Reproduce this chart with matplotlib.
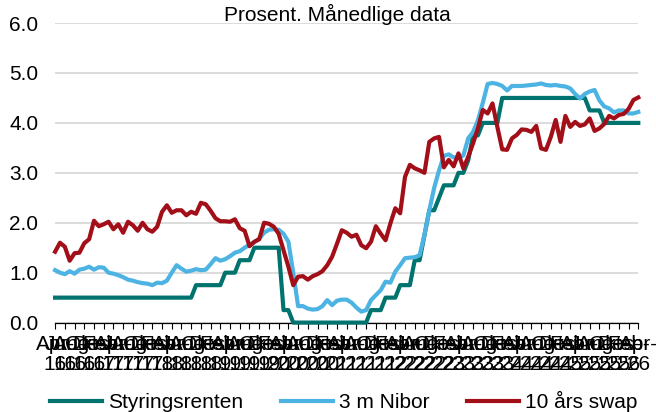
import matplotlib.pyplot as plt
import numpy as np

plt.rcParams['font.family'] = ['Liberation Sans', 'DejaVu Sans']

# Månedlige data, april 2016 - april 2026 (prosent)
styringsrenten = [
    0.5, 0.5, 0.5, 0.5, 0.5, 0.5, 0.5, 0.5, 0.5,                        # 2016
    0.5, 0.5, 0.5, 0.5, 0.5, 0.5, 0.5, 0.5, 0.5, 0.5, 0.5, 0.5,         # 2017
    0.5, 0.5, 0.5, 0.5, 0.5, 0.5, 0.5, 0.5, 0.75, 0.75, 0.75, 0.75,     # 2018
    0.75, 0.75, 1.0, 1.0, 1.0, 1.25, 1.25, 1.25, 1.5, 1.5, 1.5, 1.5,    # 2019
    1.5, 1.5, 0.25, 0.25, 0.0, 0.0, 0.0, 0.0, 0.0, 0.0, 0.0, 0.0,       # 2020
    0.0, 0.0, 0.0, 0.0, 0.0, 0.0, 0.0, 0.0, 0.25, 0.25, 0.25, 0.5,      # 2021
    0.5, 0.5, 0.75, 0.75, 0.75, 1.25, 1.25, 1.75, 2.25, 2.25, 2.5, 2.75,  # 2022
    2.75, 2.75, 3.0, 3.0, 3.25, 3.75, 3.75, 4.0, 4.0, 4.0, 4.0, 4.5,    # 2023
    4.5, 4.5, 4.5, 4.5, 4.5, 4.5, 4.5, 4.5, 4.5, 4.5, 4.5, 4.5,         # 2024
    4.5, 4.5, 4.5, 4.5, 4.5, 4.25, 4.25, 4.25, 4.0, 4.0, 4.0, 4.0,      # 2025
    4.0, 4.0, 4.0, 4.0,                                                 # 2026
]
nibor_3m = [
    1.05, 1.00, 0.97, 1.03, 0.98, 1.06, 1.08, 1.12, 1.06,
    1.11, 1.10, 1.00, 0.98, 0.95, 0.91, 0.86, 0.84, 0.81, 0.79, 0.78, 0.75,
    0.80, 0.79, 0.84, 1.00, 1.15, 1.08, 1.02, 1.04, 1.07, 1.05, 1.06, 1.17,
    1.29, 1.24, 1.27, 1.33, 1.40, 1.43, 1.50, 1.56, 1.61, 1.68, 1.80, 1.86,
    1.87, 1.86, 1.78, 1.62, 1.00, 0.33, 0.33, 0.28, 0.26, 0.27, 0.33, 0.45,
    0.35, 0.44, 0.46, 0.46, 0.40, 0.30, 0.22, 0.25, 0.45, 0.55, 0.65, 0.82,
    0.80, 1.02, 1.15, 1.29, 1.30, 1.31, 1.35, 1.76, 2.25, 2.70, 3.05, 3.34,
    3.37, 3.31, 3.30, 3.35, 3.69, 3.82, 4.05, 4.40, 4.78, 4.80, 4.78, 4.74,
    4.65, 4.74, 4.74, 4.74, 4.75, 4.76, 4.77, 4.79, 4.76, 4.75, 4.76, 4.74,
    4.73, 4.69, 4.58, 4.49, 4.58, 4.63, 4.66, 4.45, 4.33, 4.29, 4.21, 4.25,
    4.25, 4.19, 4.19, 4.22,
]
swap_10 = [
    1.42, 1.60, 1.52, 1.24, 1.39, 1.40, 1.59, 1.67, 2.04,
    1.93, 1.97, 2.02, 1.87, 1.97, 1.80, 2.02, 1.95, 1.84, 2.00, 1.87, 1.82,
    1.92, 2.22, 2.35, 2.20, 2.25, 2.25, 2.15, 2.22, 2.18, 2.40, 2.37, 2.24,
    2.09, 2.03, 2.03, 2.02, 2.07, 1.89, 1.84, 1.53, 1.62, 1.67, 2.00, 1.98,
    1.92, 1.78, 1.45, 1.12, 0.75, 0.92, 0.93, 0.86, 0.93, 0.97, 1.03, 1.15,
    1.32, 1.58, 1.85, 1.80, 1.72, 1.76, 1.55, 1.49, 1.62, 1.93, 1.78, 1.65,
    1.99, 2.29, 2.19, 2.92, 3.16, 3.09, 3.05, 3.00, 3.62, 3.69, 3.72, 3.11,
    3.26, 3.13, 3.39, 3.09, 3.32, 3.59, 3.89, 4.26, 4.19, 4.39, 3.92, 3.47,
    3.46, 3.69, 3.76, 3.87, 3.86, 3.82, 3.94, 3.49, 3.46, 3.72, 4.06, 3.62,
    4.14, 3.92, 4.02, 3.94, 3.97, 4.09, 3.84, 3.89, 3.98, 4.14, 4.09, 4.16,
    4.18, 4.28, 4.46, 4.51,
]

mnd = ['Jan', 'Feb', 'Mar', 'Apr', 'Mai', 'Jun', 'Jul', 'Aug', 'Sep', 'Okt', 'Nov', 'Des']
start_aar, start_mnd = 2016, 3  # april

n = len(styringsrenten)
x = np.arange(n)
tick_pos = list(range(0, n, 2))
etiketter = []
for i in tick_pos:
    k = start_mnd + i
    etiketter.append(f"{mnd[k % 12]}-\n{(start_aar + k // 12) % 100:02d}")

fig = plt.figure(figsize=(6.56, 4.12), dpi=100)
ax = fig.add_axes([0.084, 0.217, 0.889, 0.727])

ax.plot(x, styringsrenten, color='#00736E', lw=3, label='Styringsrenten', clip_on=False, zorder=3)
ax.plot(x, nibor_3m, color='#4DB3E3', lw=3, label='3 m Nibor', clip_on=False, zorder=3)
ax.plot(x, swap_10, color='#A20F18', lw=3, label='10 års swap', clip_on=False, zorder=3)

ax.set_xlim(0, n - 1)
ax.set_ylim(0, 6)
ax.set_yticks(np.arange(0, 6.1, 1.0))
ax.set_yticklabels([f"{v:.1f}" for v in np.arange(0, 6.1, 1.0)], fontsize=15)
ax.tick_params(axis='y', length=0, pad=12)
ax.set_xticks(tick_pos)
ax.set_xticklabels(etiketter, fontsize=15, linespacing=1.05)
ax.tick_params(axis='x', direction='out', length=4, width=0.8, pad=5, color='black')

ax.grid(axis='y', color='#D9D9D9', lw=1.3)
ax.set_axisbelow(True)
for s in ['top', 'right', 'left']:
    ax.spines[s].set_visible(False)
ax.spines['bottom'].set_color('black')
ax.spines['bottom'].set_linewidth(0.9)

fig.text(0.515, 0.966, 'Prosent. Månedlige data', ha='center', va='center', fontsize=15)

fig.legend(loc='center', bbox_to_anchor=(0.524, 0.026), ncol=3, frameon=False,
           fontsize=15, handlelength=2.5, handletextpad=0.3, columnspacing=1.8)

fig.savefig('out.png', dpi=100)
